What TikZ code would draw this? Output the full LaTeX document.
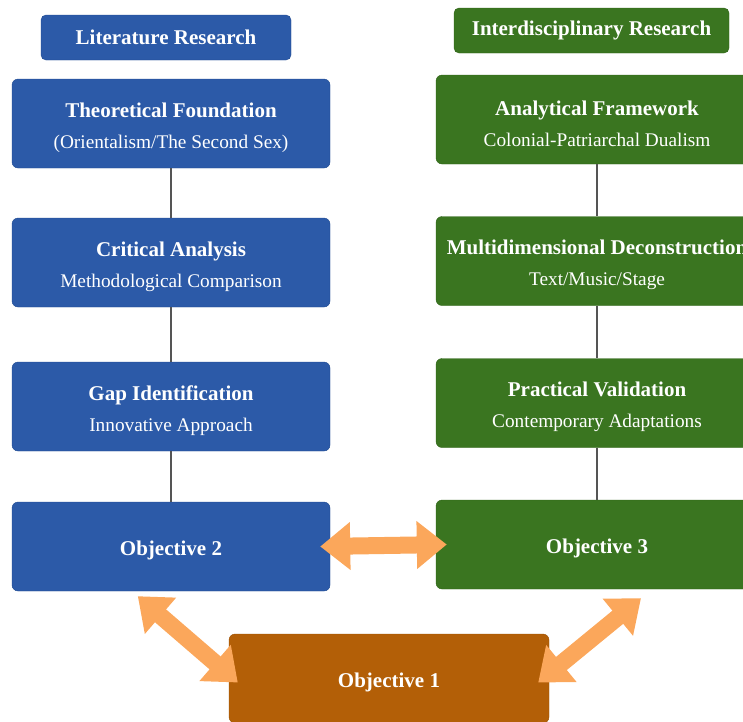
\documentclass[tikz,border=0pt]{standalone}
\usepackage{fontspec}
\setmainfont{Liberation Serif}
\usetikzlibrary{arrows.meta}
\definecolor{litblue}{HTML}{2C5AA8}
\definecolor{litblueedge}{HTML}{1F4A90}
\definecolor{intgreen}{HTML}{3A7520}
\definecolor{intgreenedge}{HTML}{2D6216}
\definecolor{objorange}{HTML}{B35F07}
\definecolor{objorangeedge}{HTML}{9A5005}
\definecolor{linkorange}{HTML}{FBA75B}
\definecolor{stemgray}{HTML}{555555}

\begin{document}
\begin{tikzpicture}[x=1pt, y=-1pt,
    every node/.style={text=white, align=center, font=\fontsize{21}{31}\selectfont},
    mainbox/.style={rectangle, rounded corners=6pt, minimum height=89pt, inner sep=0pt, execute at begin node={\rule{0pt}{23pt}}},
    litbox/.style={mainbox, draw=litblueedge, fill=litblue, minimum width=318pt},
    intbox/.style={mainbox, draw=intgreenedge, fill=intgreen, minimum width=322pt},
    headbox/.style={rectangle, rounded corners=5pt, minimum height=45pt, inner sep=0pt},
    stem/.style={draw=stemgray, line width=2pt},
    link/.style={draw=linkorange, line width=17pt, {Triangle[width=46pt,length=30pt]}-{Triangle[width=46pt,length=30pt]}}]
    \useasboundingbox (0,0) rectangle (743,721);
    \clip (0,0) rectangle (743,721);

    % column headers
    \node[headbox, draw=litblueedge, fill=litblue, minimum width=250pt] (lithead) at (166,37.5) {\textbf{Literature Research}};
    \node[headbox, draw=intgreenedge, fill=intgreen, minimum width=275pt] (inthead) at (591.5,30.5) {\textbf{Interdisciplinary Research}};

    % literature column
    \node[litbox] (theory) at (171,123.5) {\rule{0pt}{23pt}\textbf{Theoretical Foundation}\\{\fontsize{19.3}{31}\selectfont (Orientalism/The Second Sex)}};
    \node[litbox] (critic) at (171,262.5) {\rule{0pt}{23pt}\textbf{Critical Analysis}\\{\fontsize{19.3}{31}\selectfont Methodological Comparison}};
    \node[litbox] (gap) at (171,406.5) {\rule{0pt}{23pt}\textbf{Gap Identification}\\{\fontsize{19.3}{31}\selectfont Innovative Approach}};
    \node[litbox] (obj2) at (171,546.5) {\textbf{Objective 2}};

    % interdisciplinary column
    \node[intbox] (frame) at (597,119.5) {\rule{0pt}{23pt}\textbf{Analytical Framework}\\{\fontsize{19.3}{31}\selectfont Colonial-Patriarchal Dualism}};
    \node[intbox] (decon) at (597,261) {\rule{0pt}{23pt}\textbf{Multidimensional Deconstruction}\\{\fontsize{19.3}{31}\selectfont Text/Music/Stage}};
    \node[intbox] (valid) at (597,403) {\rule{0pt}{23pt}\textbf{Practical Validation}\\{\fontsize{19.3}{31}\selectfont Contemporary Adaptations}};
    \node[intbox] (obj3) at (597,544.5) {\textbf{Objective 3}};

    % objective 1
    \node[mainbox, draw=objorangeedge, fill=objorange, minimum width=320pt] (obj1) at (389,678.5) {\textbf{Objective 1}};

    \draw[stem] (theory) -- (critic);
    \draw[stem] (critic) -- (gap);
    \draw[stem] (gap) -- (obj2);
    \draw[stem] (frame) -- (decon);
    \draw[stem] (decon) -- (valid);
    \draw[stem] (valid) -- (obj3);

    \draw[link] ([xshift=-10pt]obj2.east) -- ([xshift=11pt]obj3.west);
    \draw[link] ([xshift=126pt,yshift=-5pt]obj2.south west) -- ([xshift=9pt,yshift=-4pt]obj1.west);
    \draw[link] ([xshift=44pt,yshift=-9pt]obj3.south) -- ([xshift=-11pt,yshift=-4pt]obj1.east);
\end{tikzpicture}
\end{document}
